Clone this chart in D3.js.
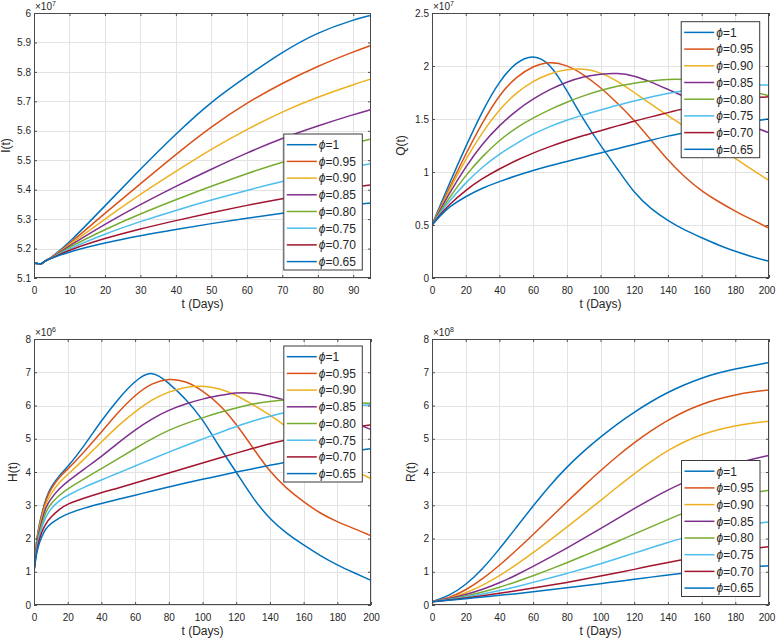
<!DOCTYPE html>
<html><head><meta charset="utf-8">
<script src="https://cdn.jsdelivr.net/npm/d3@7"></script>
<style>
html,body{margin:0;padding:0;background:#fff;}
svg{display:block;font-family:"Liberation Sans",Arial,Helvetica,sans-serif;}
</style></head>
<body>
<svg id="chart" width="776" height="639"></svg>
<script>
// ---------- DATA ----------
const phiLabels = ["1","0.95","0.90","0.85","0.80","0.75","0.70","0.65"];
const seriesColors = ["#0072BD","#D95319","#EDB120","#7E2F8E","#77AC30","#4DBEEE","#A2142F","#0072BD"];

// Panel I(t)  (×10^7)
const tI = [0,1,2,3,4,5,10,20,30,40,50,60,70,80,90,95];
const I_100 = [5.15,5.15,5.146,5.157,5.163,5.171,5.22,5.345,5.47,5.59,5.70,5.785,5.868,5.935,5.977,5.992];
const I_095 = [5.15,5.15,5.146,5.157,5.163,5.170,5.216,5.32,5.42,5.52,5.615,5.695,5.762,5.82,5.868,5.89];
const I_090 = [5.15,5.15,5.146,5.157,5.163,5.169,5.213,5.30,5.385,5.462,5.538,5.605,5.665,5.715,5.757,5.776];
const I_085 = [5.15,5.15,5.146,5.157,5.163,5.169,5.209,5.283,5.35,5.412,5.47,5.525,5.575,5.617,5.655,5.672];
const I_080 = [5.15,5.15,5.146,5.157,5.163,5.168,5.205,5.265,5.318,5.366,5.412,5.455,5.494,5.528,5.558,5.572];
const I_075 = [5.15,5.15,5.146,5.157,5.163,5.168,5.20,5.25,5.292,5.33,5.365,5.398,5.428,5.455,5.478,5.488];
const I_070 = [5.15,5.15,5.146,5.157,5.163,5.167,5.196,5.235,5.267,5.295,5.322,5.347,5.37,5.39,5.408,5.416];
const I_065 = [5.15,5.15,5.146,5.157,5.163,5.167,5.19,5.22,5.244,5.265,5.285,5.303,5.32,5.335,5.349,5.355];

// Panel Q(t)  (×10^7)
const tQ = [0,5,10,20,30,40,50,60,70,80,90,100,110,120,130,140,150,160,170,180,190,200];
const Q_100 = [0.5,0.69,0.88,1.24,1.58,1.86,2.04,2.11,2.03,1.77,1.49,1.25,1.03,0.80,0.65,0.54,0.45,0.38,0.31,0.25,0.20,0.157];
const Q_095 = [0.5,0.67,0.84,1.17,1.47,1.73,1.90,2.00,2.045,2.01,1.92,1.80,1.65,1.49,1.30,1.11,0.95,0.82,0.72,0.63,0.55,0.47];
const Q_090 = [0.5,0.66,0.82,1.12,1.38,1.59,1.75,1.86,1.93,1.97,1.975,1.94,1.86,1.75,1.64,1.53,1.43,1.33,1.23,1.13,1.02,0.92];
const Q_085 = [0.5,0.645,0.79,1.05,1.27,1.44,1.58,1.69,1.78,1.85,1.90,1.925,1.935,1.91,1.85,1.78,1.71,1.64,1.57,1.50,1.43,1.37];
const Q_080 = [0.5,0.63,0.75,0.97,1.15,1.30,1.42,1.51,1.59,1.66,1.72,1.77,1.81,1.84,1.86,1.875,1.875,1.865,1.84,1.80,1.76,1.72];
const Q_075 = [0.5,0.615,0.72,0.90,1.05,1.17,1.27,1.36,1.43,1.49,1.54,1.585,1.63,1.67,1.71,1.74,1.77,1.79,1.805,1.815,1.82,1.82];
const Q_070 = [0.5,0.60,0.69,0.83,0.94,1.03,1.11,1.18,1.24,1.295,1.345,1.39,1.435,1.48,1.52,1.56,1.60,1.63,1.66,1.68,1.70,1.71];
const Q_065 = [0.5,0.59,0.67,0.77,0.85,0.91,0.965,1.015,1.06,1.10,1.14,1.18,1.22,1.26,1.30,1.34,1.37,1.40,1.43,1.46,1.48,1.50];

// Panel H(t)  (×10^6)
const tH = [0,1,2,3,5,7,10,15,20,30,40,50,60,70,80,90,100,110,120,130,140,150,160,170,180,190,200];
const H_100 = [1.0,1.7,2.1,2.4,2.82,3.2,3.55,3.9,4.15,4.8,5.55,6.2,6.75,7.08,6.68,6.2,5.6,4.75,4.0,3.2,2.58,2.15,1.8,1.48,1.2,0.97,0.74];
const H_095 = [1.0,1.68,2.05,2.35,2.78,3.15,3.5,3.85,4.08,4.62,5.2,5.8,6.32,6.68,6.82,6.74,6.45,6.05,5.45,4.72,4.0,3.5,3.1,2.75,2.5,2.3,2.08];
const H_090 = [1.0,1.65,2.0,2.3,2.7,3.05,3.35,3.7,3.92,4.4,4.9,5.4,5.82,6.18,6.42,6.56,6.6,6.51,6.32,6.02,5.72,5.35,5.0,4.65,4.35,4.05,3.8];
const H_085 = [1.0,1.6,1.95,2.2,2.6,2.95,3.2,3.5,3.72,4.1,4.46,4.88,5.27,5.6,5.87,6.05,6.2,6.3,6.39,6.39,6.28,6.15,6.0,5.85,5.67,5.48,5.28];
const H_080 = [1.0,1.55,1.85,2.1,2.5,2.8,3.05,3.3,3.5,3.8,4.1,4.4,4.71,5.0,5.26,5.46,5.63,5.79,5.93,6.05,6.13,6.17,6.17,6.15,6.12,6.09,6.06];
const H_075 = [1.0,1.5,1.8,2.05,2.4,2.65,2.9,3.15,3.3,3.55,3.76,3.97,4.18,4.39,4.6,4.8,4.99,5.18,5.37,5.54,5.68,5.8,5.89,5.95,5.98,6.0,6.02];
const H_070 = [1.0,1.45,1.72,1.95,2.25,2.45,2.65,2.88,3.05,3.22,3.38,3.52,3.67,3.82,3.97,4.12,4.27,4.42,4.57,4.71,4.85,4.97,5.08,5.18,5.27,5.35,5.42];
const H_065 = [1.0,1.4,1.65,1.85,2.1,2.3,2.45,2.62,2.75,2.92,3.05,3.18,3.3,3.43,3.55,3.67,3.78,3.89,4.0,4.1,4.2,4.3,4.4,4.48,4.55,4.63,4.7];

// Panel R(t)  (×10^8)
const tR = [0,10,20,30,40,50,60,70,80,90,100,110,120,130,140,150,160,170,180,190,200];
const R_100 = [0.1,0.27,0.6,1.08,1.68,2.33,2.98,3.6,4.15,4.63,5.05,5.45,5.8,6.12,6.4,6.63,6.83,6.98,7.1,7.2,7.29];
const R_095 = [0.1,0.21,0.44,0.78,1.19,1.64,2.12,2.61,3.1,3.58,4.04,4.48,4.88,5.24,5.56,5.83,6.04,6.2,6.32,6.41,6.47];
const R_090 = [0.1,0.19,0.36,0.59,0.88,1.21,1.57,1.95,2.34,2.74,3.14,3.55,3.95,4.32,4.65,4.92,5.13,5.28,5.39,5.47,5.53];
const R_085 = [0.1,0.19,0.31,0.47,0.66,0.9,1.16,1.43,1.71,2.0,2.3,2.6,2.9,3.19,3.46,3.7,3.91,4.09,4.25,4.39,4.5];
const R_080 = [0.1,0.17,0.27,0.39,0.53,0.7,0.88,1.07,1.27,1.48,1.69,1.91,2.13,2.35,2.57,2.78,2.97,3.13,3.26,3.37,3.45];
const R_075 = [0.1,0.16,0.24,0.33,0.43,0.55,0.68,0.81,0.95,1.09,1.24,1.4,1.56,1.72,1.88,2.03,2.16,2.27,2.37,2.44,2.5];
const R_070 = [0.1,0.15,0.21,0.28,0.35,0.43,0.51,0.59,0.68,0.77,0.87,0.97,1.07,1.18,1.28,1.38,1.47,1.55,1.63,1.7,1.75];
const R_065 = [0.1,0.14,0.19,0.24,0.29,0.34,0.4,0.46,0.52,0.58,0.64,0.71,0.77,0.84,0.9,0.96,1.02,1.07,1.12,1.15,1.18];

// tick values
const xTicksI = [0,10,20,30,40,50,60,70,80,90];
const xTicks200 = [0,20,40,60,80,100,120,140,160,180,200];
const yTicksI = [5.1,5.2,5.3,5.4,5.5,5.6,5.7,5.8,5.9,6];
const yTicksQ = [0,0.5,1,1.5,2,2.5];
const yTicksH = [0,1,2,3,4,5,6,7,8];
const yTicksR = [0,1,2,3,4,5,6,7,8];

// ---------- LAYOUT ----------
const panels = [
  {id:"I", t:tI, series:[I_100,I_095,I_090,I_085,I_080,I_075,I_070,I_065], xDom:[0,95], yDom:[5.1,6], xTicks:xTicksI, yTicks:yTicksI,
   exp:"7", ylabel:"I(t)", box:{l:34,r:371,t:13,b:278}, ylabX:6, legend:{x:283.3,y:133.5}},
  {id:"Q", t:tQ, series:[Q_100,Q_095,Q_090,Q_085,Q_080,Q_075,Q_070,Q_065], xDom:[0,200], yDom:[0,2.5], xTicks:xTicks200, yTicks:yTicksQ,
   exp:"7", ylabel:"Q(t)", box:{l:432,r:769,t:13,b:278}, ylabX:401, legend:{x:680.7,y:21.2}},
  {id:"H", t:tH, series:[H_100,H_095,H_090,H_085,H_080,H_075,H_070,H_065], xDom:[0,200], yDom:[0,8], xTicks:xTicks200, yTicks:yTicksH,
   exp:"6", ylabel:"H(t)", box:{l:34,r:371,t:339,b:605}, ylabX:13, legend:{x:283.3,y:345.5}},
  {id:"R", t:tR, series:[R_100,R_095,R_090,R_085,R_080,R_075,R_070,R_065], xDom:[0,200], yDom:[0,8], xTicks:xTicks200, yTicks:yTicksR,
   exp:"8", ylabel:"R(t)", box:{l:432,r:769,t:339,b:605}, ylabX:411, legend:{x:681,y:460}}
];

const svg = d3.select("#chart");
const axisColor = "#262626";
const fmt = d => String(+d.toFixed(2));

panels.forEach((p, pi) => {
  const b = p.box;
  const x = d3.scaleLinear().domain(p.xDom).range([b.l, b.r]);
  const y = d3.scaleLinear().domain(p.yDom).range([b.b, b.t]);
  const g = svg.append("g");

  g.append("rect").attr("x", b.l).attr("y", b.t).attr("width", b.r - b.l).attr("height", b.b - b.t).attr("fill", "#fff");

  // grid
  const grid = g.append("g").attr("stroke", "#e3e3e3").attr("stroke-width", 1);
  p.xTicks.forEach(v => grid.append("line").attr("x1", Math.round(x(v)) + 0.5).attr("x2", Math.round(x(v)) + 0.5).attr("y1", b.t).attr("y2", b.b));
  p.yTicks.forEach(v => grid.append("line").attr("y1", Math.round(y(v)) + 0.5).attr("y2", Math.round(y(v)) + 0.5).attr("x1", b.l).attr("x2", b.r));

  // lines
  const clipId = "clip" + p.id;
  svg.append("clipPath").attr("id", clipId).append("rect")
     .attr("x", b.l).attr("y", b.t).attr("width", b.r - b.l).attr("height", b.b - b.t);
  const line = d3.line().x((d, i) => x(p.t[i])).y(d => y(d)).curve(d3.curveBasis);
  const lg = g.append("g").attr("clip-path", `url(#${clipId})`);
  p.series.forEach((s, i) => {
    lg.append("path").datum(s).attr("d", line).attr("fill", "none")
      .attr("stroke", seriesColors[i]).attr("stroke-width", 1.5).attr("stroke-linejoin", "round");
  });

  // axes
  const style = sel => {
    sel.select(".domain").remove();
    sel.selectAll(".tick line").attr("stroke", axisColor).attr("stroke-width", 0.8);
    sel.selectAll(".tick text").attr("fill", axisColor).attr("font-size", 10)
      .attr("font-family", '"Liberation Sans",Arial,Helvetica,sans-serif');
  };
  const xb = g.append("g").attr("transform", `translate(0,${b.b})`)
    .call(d3.axisBottom(x).tickValues(p.xTicks).tickFormat(fmt).tickSize(-3).tickPadding(8.5)).call(style);
  if (b.r > 760) xb.selectAll(".tick text").filter(d => d === p.xDom[1]).attr("dx", -2.5);
  g.append("g").attr("transform", `translate(0,${b.t})`)
    .call(d3.axisTop(x).tickValues(p.xTicks).tickFormat("").tickSize(-3)).call(style);
  g.append("g").attr("transform", `translate(${b.l},0)`)
    .call(d3.axisLeft(y).tickValues(p.yTicks).tickFormat(fmt).tickSize(-3).tickPadding(3)).call(style);
  g.append("g").attr("transform", `translate(${b.r},0)`)
    .call(d3.axisRight(y).tickValues(p.yTicks).tickFormat("").tickSize(-3)).call(style);

  // box
  g.append("rect").attr("x", b.l + 0.5).attr("y", b.t + 0.5).attr("width", b.r - b.l - 1).attr("height", b.b - b.t - 1)
    .attr("fill", "none").attr("stroke", "#4a4a4a").attr("stroke-width", 1);

  // exponent
  const ex = g.append("text").attr("x", b.l + 1).attr("y", b.t - 3.5).attr("fill", axisColor).attr("font-size", 10);
  ex.append("tspan").text("×10");
  ex.append("tspan").attr("font-size", 7).attr("dy", -4).text(p.exp);

  // axis labels
  g.append("text").attr("x", (b.l + b.r) / 2).attr("y", b.b + 30).attr("text-anchor", "middle")
    .attr("fill", axisColor).attr("font-size", 12).text("t (Days)");
  g.append("text").attr("transform", `translate(${p.ylabX},${(b.t + b.b) / 2}) rotate(-90)`)
    .attr("text-anchor", "middle").attr("dominant-baseline", "central")
    .attr("fill", axisColor).attr("font-size", 12).text(p.ylabel);

  // legend
  const L = p.legend, lw = 78.5, rowH = 16.7, lh = 136;
  const leg = g.append("g").attr("transform", `translate(${L.x},${L.y})`);
  leg.append("rect").attr("x", 0.5).attr("y", 0.5).attr("width", lw).attr("height", lh)
    .attr("fill", "#fff").attr("stroke", "#3a3a3a").attr("stroke-width", 1);
  phiLabels.forEach((lab, i) => {
    const cy = 11.2 + i * rowH;
    leg.append("line").attr("x1", 3.5).attr("x2", 33.5).attr("y1", cy).attr("y2", cy)
      .attr("stroke", seriesColors[i]).attr("stroke-width", 1.5);
    const tx = leg.append("text").attr("x", 35.5).attr("y", cy).attr("dy", "0.36em")
      .attr("fill", axisColor).attr("font-size", 12);
    tx.append("tspan").attr("font-style", "italic").text("\u03D5");
    tx.append("tspan").text("=" + lab);
  });
});
</script>
</body></html>
